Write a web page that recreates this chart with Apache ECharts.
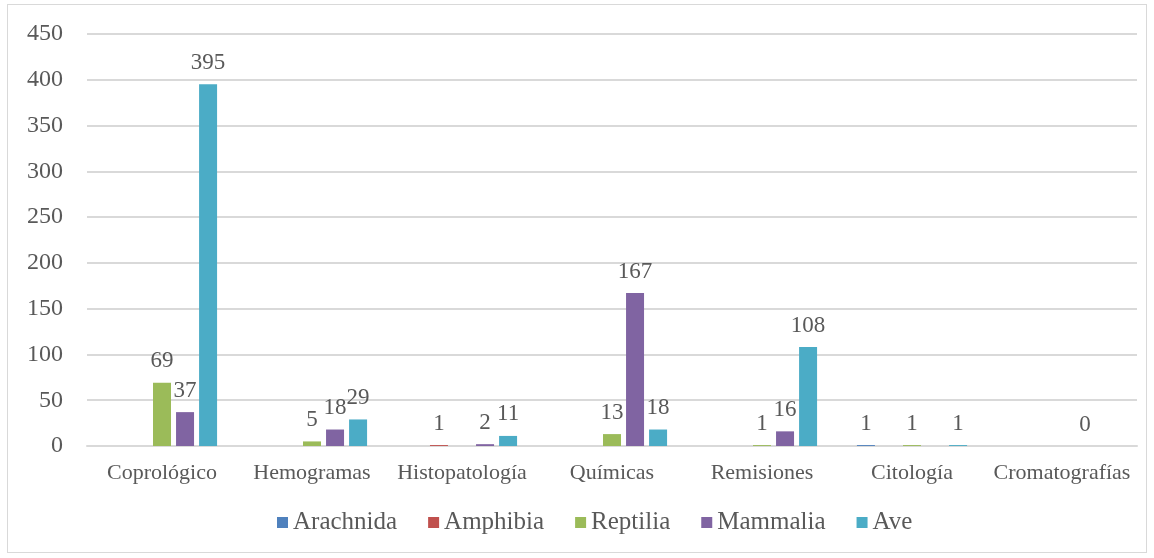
<!DOCTYPE html>
<html><head><meta charset="utf-8">
<script src="https://cdn.jsdelivr.net/npm/echarts@6/dist/echarts.min.js"></script>
<style>
html,body{margin:0;padding:0;background:#fff;}
#frame{position:absolute;left:7px;top:4px;width:1140px;height:549px;border:1px solid #D9D9D9;box-sizing:border-box;}
#c{position:absolute;left:0;top:0;width:1154px;height:558px;}
</style></head>
<body>
<div id="frame"></div>
<div id="c"></div>
<script>
var categories = ['Coprológico','Hemogramas','Histopatología','Químicas','Remisiones','Citología','Cromatografías'];
var seriesNames = ['Arachnida','Amphibia','Reptilia','Mammalia','Ave'];
var arachnida = [null, null, null, null, null, 1, null];
var amphibia  = [null, null, 1, null, null, null, null];
var reptilia  = [69, 5, null, 13, 1, 1, null];
var mammalia  = [37, 18, 2, 167, 16, null, 0];
var ave       = [395, 29, 11, 18, 108, 1, null];
var yTicks = [0, 50, 100, 150, 200, 250, 300, 350, 400, 450];
var colors = ['#4F81BD','#C0504D','#9BBB59','#8064A2','#4BACC6'];
var allData = [arachnida, amphibia, reptilia, mammalia, ave];
var FONT = 'Liberation Serif';
var TXT = '#595959';

var chart = echarts.init(document.getElementById('c'));
var series = seriesNames.map(function(n, i){
  return {
    name: n, type: 'bar', data: allData[i], barWidth: 18, barGap: '28%',
    itemStyle: {color: colors[i]},
    label: {show: true, position: 'top', distance: 10, color: TXT, fontFamily: FONT, fontSize: 23}
  };
});
chart.setOption({
  animation: false,
  color: colors,
  grid: {left: 87, right: 17, top: 34, bottom: 112, containLabel: false},
  legend: {
    bottom: 18, left: 272, itemWidth: 11, itemHeight: 11, itemGap: 31,
    icon: 'rect',
    textStyle: {color: TXT, fontFamily: FONT, fontSize: 25},
    data: seriesNames
  },
  xAxis: {
    type: 'category', data: categories,
    axisLine: {show: true, lineStyle: {color: '#D9D9D9', width: 2}},
    axisTick: {show: false},
    axisLabel: {color: TXT, fontFamily: FONT, fontSize: 22, margin: 16, interval: 0}
  },
  yAxis: {
    type: 'value', min: yTicks[0], max: yTicks[yTicks.length-1], interval: 50,
    axisLine: {show: false}, axisTick: {show: false},
    splitLine: {lineStyle: {color: '#D9D9D9', width: 2}},
    axisLabel: {color: TXT, fontFamily: FONT, fontSize: 24, margin: 24}
  },
  series: series
});
</script>
</body></html>
